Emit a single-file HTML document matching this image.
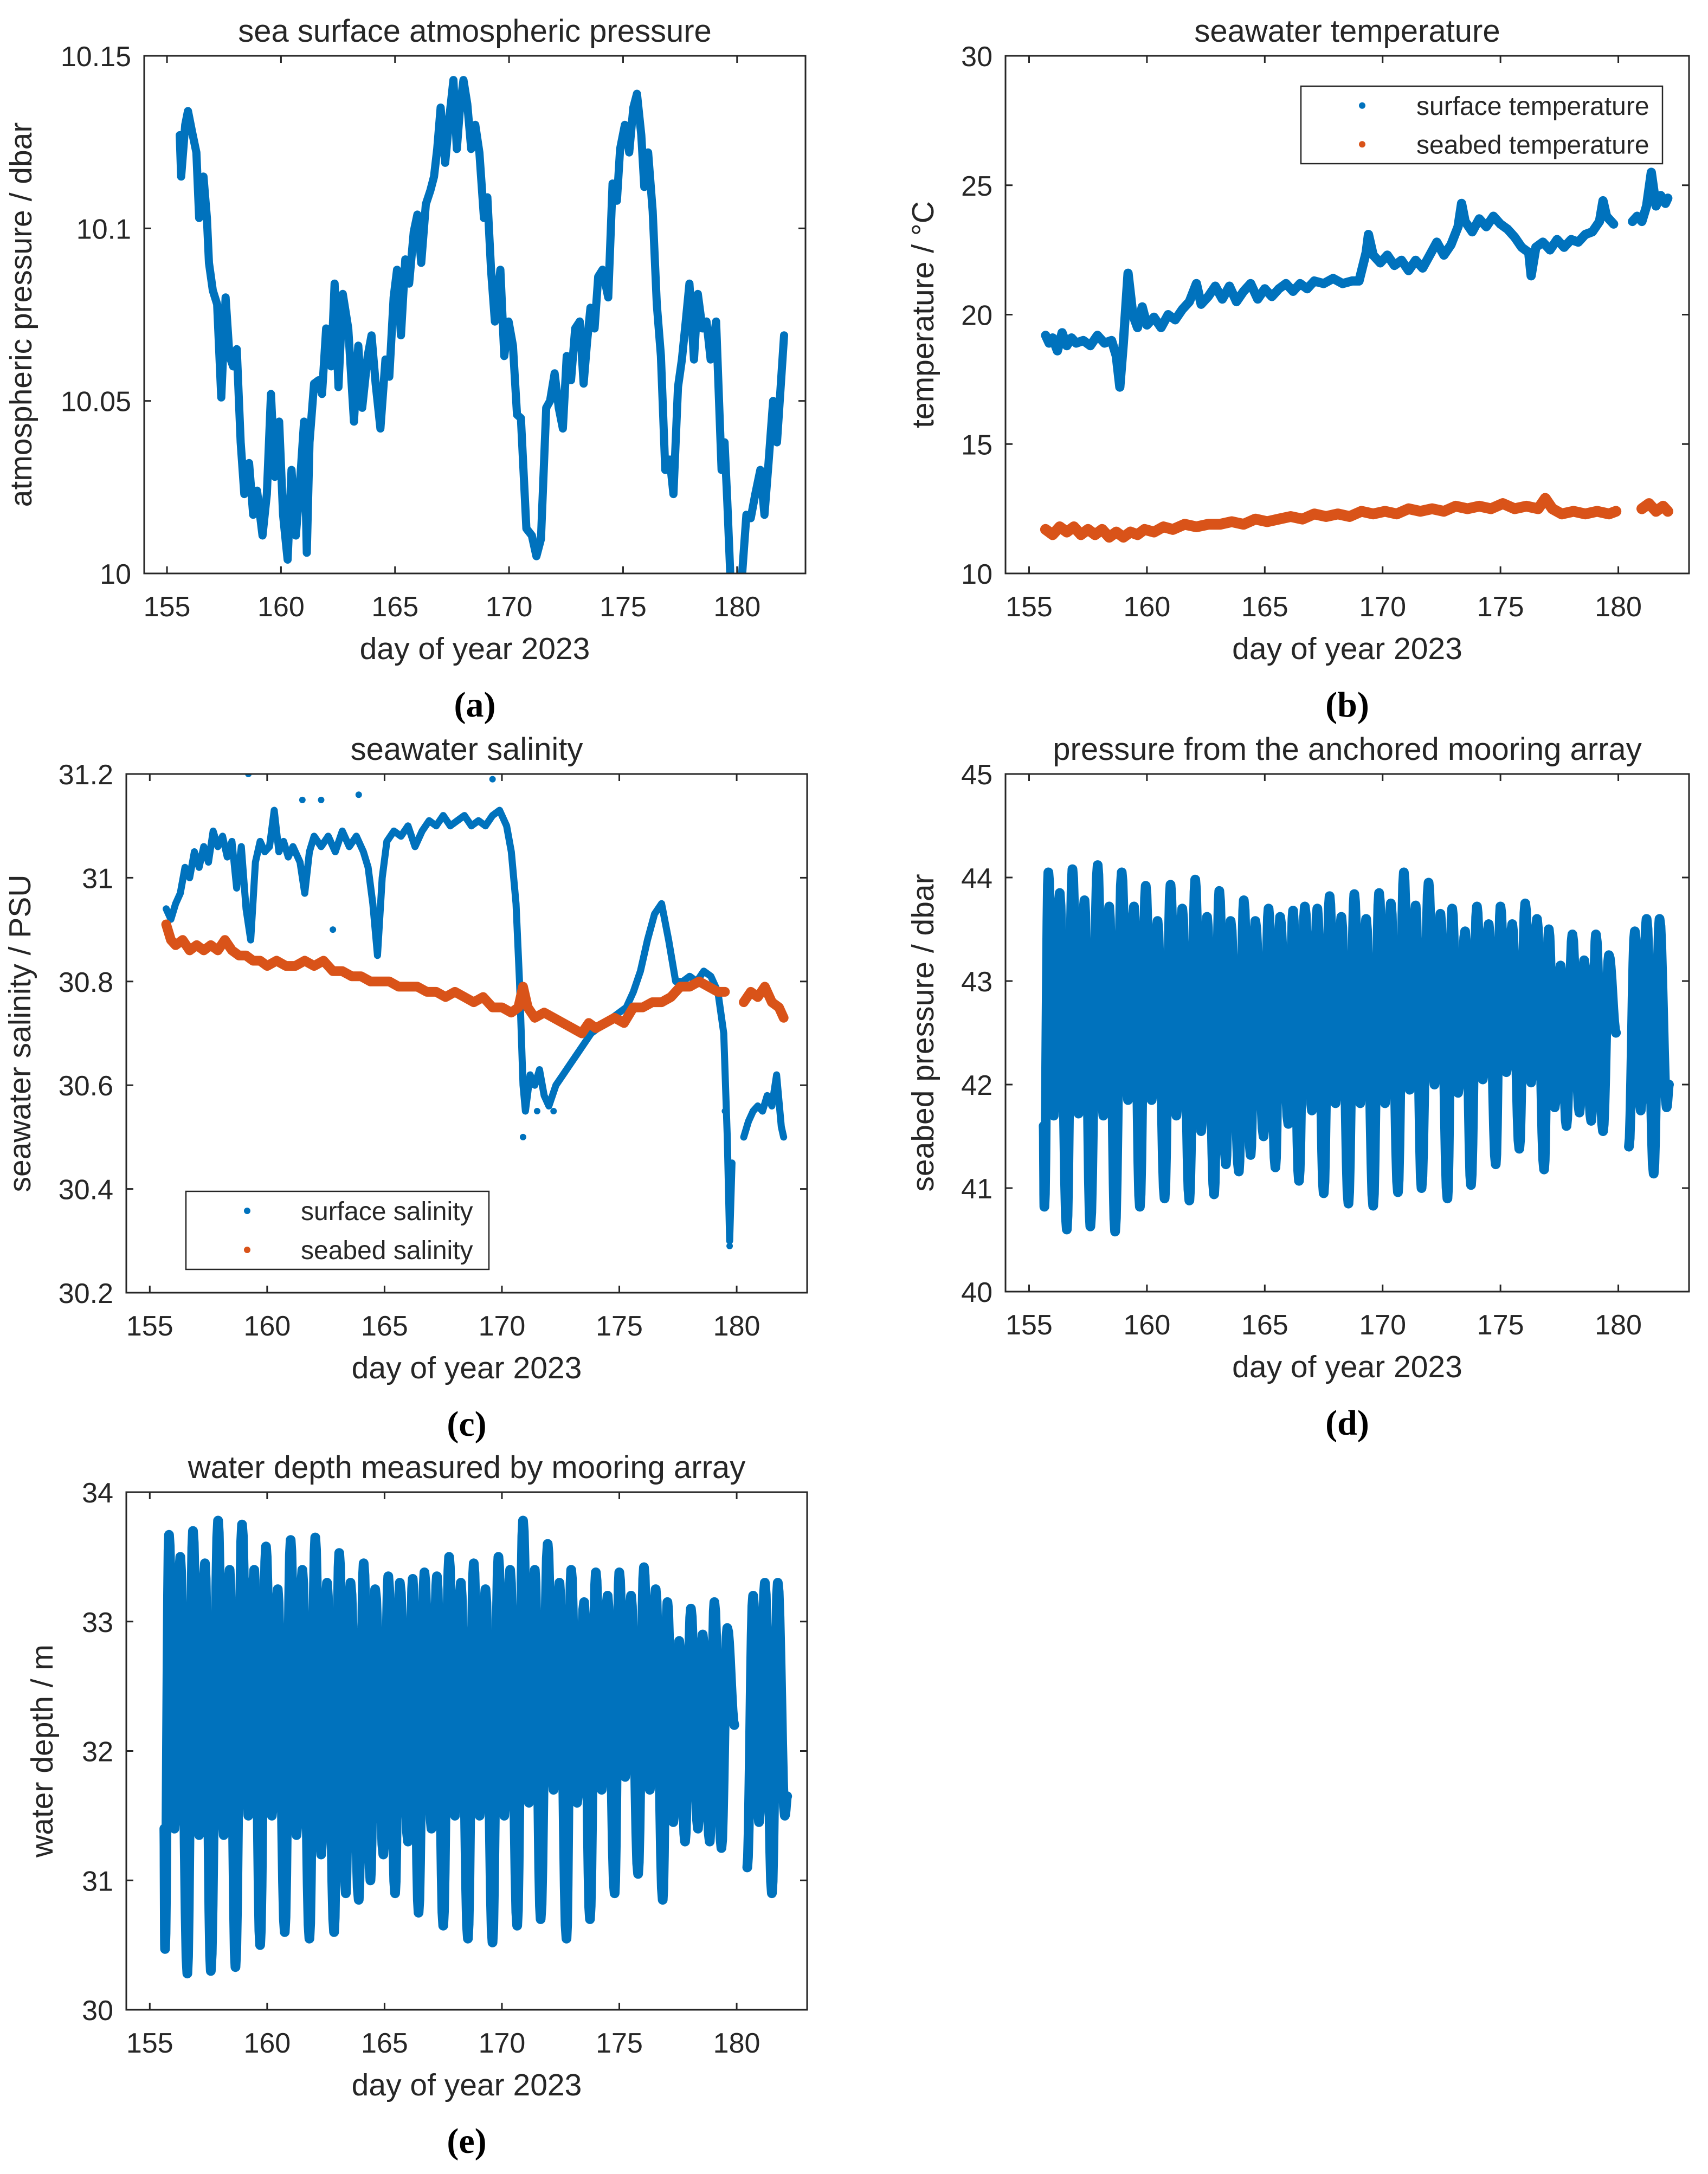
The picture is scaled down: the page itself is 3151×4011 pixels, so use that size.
<!DOCTYPE html>
<html><head><meta charset="utf-8"><style>
html,body{margin:0;padding:0;background:#fff;}
svg{display:block;}
text{font-family:"Liberation Sans",Arial,sans-serif;fill:#262626;}
.pl{font-family:"Liberation Serif","Times New Roman",serif;font-weight:bold;fill:#000;}
</style></head><body>
<svg id="fig" xmlns="http://www.w3.org/2000/svg" width="3151" height="4011" viewBox="0 0 3151 4011"></svg>
<script>
// ---------- DATA ----------
const xTicks = [155,160,165,170,175,180];
const atmPressure = [[155.56,10.127],[155.62,10.115],[155.8,10.13],[155.92,10.134],[156.1,10.128],[156.29,10.122],[156.41,10.103],[156.6,10.115],[156.75,10.103],[156.84,10.09],[157.01,10.082],[157.2,10.078],[157.38,10.051],[157.57,10.080],[157.74,10.063],[157.9,10.06],[158.06,10.065],[158.23,10.038],[158.39,10.023],[158.6,10.032],[158.78,10.017],[158.95,10.024],[159.19,10.011],[159.38,10.023],[159.56,10.052],[159.73,10.028],[159.92,10.044],[160.09,10.017],[160.29,10.004],[160.46,10.030],[160.65,10.011],[160.82,10.025],[161.01,10.044],[161.13,10.006],[161.25,10.038],[161.45,10.055],[161.65,10.056],[161.8,10.052],[161.98,10.071],[162.2,10.06],[162.35,10.084],[162.52,10.054],[162.71,10.081],[162.95,10.071],[163.2,10.044],[163.39,10.066],[163.56,10.048],[163.8,10.063],[163.97,10.069],[164.15,10.055],[164.36,10.042],[164.58,10.062],[164.75,10.057],[164.94,10.080],[165.09,10.088],[165.26,10.069],[165.45,10.091],[165.62,10.084],[165.82,10.099],[165.98,10.104],[166.15,10.09],[166.35,10.107],[166.55,10.111],[166.71,10.115],[166.85,10.123],[167.0,10.135],[167.2,10.119],[167.38,10.132],[167.56,10.143],[167.71,10.123],[167.85,10.135],[168.0,10.143],[168.17,10.136],[168.34,10.123],[168.52,10.13],[168.7,10.122],[168.9,10.103],[169.05,10.109],[169.21,10.088],[169.38,10.073],[169.62,10.088],[169.79,10.063],[169.98,10.073],[170.17,10.066],[170.35,10.046],[170.52,10.045],[170.76,10.013],[171.0,10.011],[171.2,10.005],[171.4,10.01],[171.63,10.048],[171.8,10.050],[172.0,10.058],[172.18,10.048],[172.36,10.042],[172.53,10.063],[172.72,10.056],[172.9,10.071],[173.1,10.073],[173.27,10.055],[173.42,10.067],[173.57,10.077],[173.75,10.071],[173.91,10.086],[174.1,10.088],[174.35,10.080],[174.54,10.113],[174.73,10.108],[174.87,10.123],[175.08,10.130],[175.27,10.122],[175.45,10.135],[175.61,10.139],[175.8,10.127],[175.93,10.112],[176.1,10.122],[176.3,10.105],[176.48,10.078],[176.66,10.063],[176.85,10.030],[177.05,10.033],[177.21,10.023],[177.41,10.054],[177.58,10.062],[177.75,10.073],[177.91,10.084],[178.11,10.062],[178.28,10.081],[178.48,10.071],[178.66,10.073],[178.84,10.062],[179.08,10.073],[179.32,10.030],[179.45,10.038],[179.57,10.021],[179.7,10.0],[179.81,9.995],[180.17,9.995],[180.41,10.017],[180.6,10.016],[180.8,10.023],[181.02,10.030],[181.2,10.017],[181.38,10.032],[181.58,10.050],[181.75,10.038],[181.92,10.055],[182.06,10.069]];
const surfaceTemp = [[155.7,19.2],[155.85,18.9],[156.0,19.1],[156.2,18.6],[156.4,19.3],[156.6,18.8],[156.8,19.1],[157.0,18.9],[157.3,19.0],[157.6,18.8],[157.9,19.2],[158.2,18.9],[158.5,19.0],[158.7,18.4],[158.85,17.2],[159.0,18.9],[159.2,21.6],[159.4,20.0],[159.6,19.5],[159.8,20.3],[160.0,19.6],[160.3,19.9],[160.6,19.5],[160.9,20.0],[161.2,19.8],[161.5,20.2],[161.8,20.5],[162.1,21.2],[162.3,20.4],[162.6,20.7],[162.9,21.1],[163.2,20.6],[163.5,21.1],[163.8,20.5],[164.1,20.9],[164.4,21.2],[164.7,20.6],[165.0,21.0],[165.3,20.7],[165.6,21.0],[165.9,21.2],[166.2,20.9],[166.5,21.2],[166.8,21.0],[167.1,21.3],[167.5,21.2],[167.9,21.4],[168.3,21.2],[168.7,21.3],[169.0,21.3],[169.3,22.4],[169.4,23.1],[169.6,22.3],[169.9,22.0],[170.2,22.3],[170.5,21.9],[170.8,22.1],[171.1,21.7],[171.4,22.1],[171.7,21.8],[172.0,22.3],[172.3,22.8],[172.6,22.3],[172.9,22.7],[173.2,23.4],[173.35,24.3],[173.5,23.6],[173.8,23.2],[174.1,23.7],[174.4,23.4],[174.7,23.8],[175.0,23.5],[175.3,23.3],[175.6,23.0],[175.9,22.6],[176.2,22.4],[176.3,21.5],[176.5,22.6],[176.8,22.8],[177.1,22.5],[177.4,22.9],[177.7,22.6],[178.0,22.9],[178.3,22.8],[178.6,23.1],[178.9,23.2],[179.2,23.6],[179.35,24.4],[179.5,23.8],[179.8,23.5],[NaN,NaN],[180.6,23.6],[180.8,23.8],[181.0,23.6],[181.2,24.2],[181.4,25.5],[181.6,24.2],[181.8,24.6],[182.0,24.3],[182.1,24.5]];
const seabedTemp = [[155.7,11.7],[156.0,11.5],[156.3,11.8],[156.6,11.6],[156.9,11.8],[157.2,11.5],[157.5,11.7],[157.8,11.5],[158.1,11.7],[158.4,11.4],[158.7,11.6],[159.0,11.4],[159.3,11.6],[159.6,11.5],[159.9,11.7],[160.3,11.6],[160.7,11.8],[161.1,11.7],[161.6,11.9],[162.1,11.8],[162.6,11.9],[163.1,11.9],[163.6,12.0],[164.1,11.9],[164.6,12.1],[165.1,12.0],[165.6,12.1],[166.1,12.2],[166.6,12.1],[167.1,12.3],[167.6,12.2],[168.1,12.3],[168.6,12.2],[169.1,12.4],[169.6,12.3],[170.1,12.4],[170.6,12.3],[171.1,12.5],[171.6,12.4],[172.1,12.5],[172.6,12.4],[173.1,12.6],[173.6,12.5],[174.1,12.6],[174.6,12.5],[175.1,12.7],[175.6,12.5],[176.1,12.6],[176.6,12.5],[176.9,12.9],[177.2,12.5],[177.6,12.3],[178.1,12.4],[178.6,12.3],[179.1,12.4],[179.6,12.3],[179.9,12.4],[NaN,NaN],[181.0,12.5],[181.3,12.7],[181.6,12.4],[181.9,12.6],[182.1,12.4]];
const surfaceSal = [[155.7,30.94],[155.9,30.92],[156.1,30.95],[156.3,30.97],[156.5,31.02],[156.7,31.0],[156.9,31.05],[157.1,31.02],[157.3,31.06],[157.5,31.03],[157.7,31.09],[157.9,31.06],[158.1,31.08],[158.3,31.04],[158.5,31.07],[158.7,30.98],[158.9,31.06],[159.1,30.94],[159.3,30.88],[159.5,31.03],[159.7,31.07],[159.9,31.05],[160.1,31.06],[160.3,31.13],[160.5,31.05],[160.7,31.07],[160.9,31.04],[161.1,31.06],[161.4,31.03],[161.6,30.97],[161.8,31.05],[162.0,31.08],[162.3,31.06],[162.6,31.08],[162.9,31.05],[163.2,31.09],[163.5,31.06],[163.8,31.08],[164.1,31.05],[164.3,31.02],[164.5,30.95],[164.7,30.85],[164.9,31.0],[165.1,31.07],[165.4,31.09],[165.7,31.08],[166.0,31.1],[166.3,31.06],[166.6,31.09],[166.9,31.11],[167.2,31.1],[167.5,31.12],[167.8,31.1],[168.1,31.11],[168.4,31.12],[168.7,31.1],[169.0,31.11],[169.3,31.1],[169.6,31.12],[169.9,31.13],[170.2,31.1],[170.4,31.05],[170.6,30.95],[170.75,30.8],[170.9,30.6],[171.0,30.55],[171.2,30.62],[171.4,30.6],[171.6,30.63],[171.8,30.58],[172.0,30.56],[172.3,30.6],[172.6,30.62],[172.9,30.64],[173.2,30.66],[173.5,30.68],[173.8,30.7],[174.1,30.71],[174.4,30.72],[174.7,30.73],[175.0,30.74],[175.3,30.75],[175.6,30.78],[175.9,30.82],[176.2,30.88],[176.5,30.93],[176.8,30.95],[177.1,30.88],[177.4,30.8],[177.7,30.8],[178.0,30.81],[178.3,30.8],[178.6,30.82],[178.9,30.81],[179.2,30.78],[179.45,30.7],[179.6,30.5],[179.7,30.3],[179.8,30.45],[NaN,NaN],[180.3,30.5],[180.5,30.53],[180.7,30.55],[180.9,30.56],[181.1,30.55],[181.3,30.58],[181.5,30.56],[181.7,30.62],[181.9,30.52],[182.0,30.5]];
const surfaceSalDots = [[159.2,31.2],[161.5,31.15],[162.3,31.15],[162.8,30.9],[163.9,31.16],[169.6,31.19],[170.9,30.5],[171.5,30.55],[172.2,30.55],[179.7,30.29],[179.5,30.55]];
const seabedSal = [[155.7,30.91],[155.9,30.88],[156.1,30.87],[156.4,30.88],[156.7,30.86],[157.0,30.87],[157.3,30.86],[157.6,30.87],[157.9,30.86],[158.2,30.88],[158.5,30.86],[158.8,30.85],[159.1,30.85],[159.4,30.84],[159.7,30.84],[160.0,30.83],[160.4,30.84],[160.8,30.83],[161.2,30.83],[161.6,30.84],[162.0,30.83],[162.4,30.84],[162.8,30.82],[163.2,30.82],[163.6,30.81],[164.0,30.81],[164.4,30.8],[164.8,30.8],[165.2,30.8],[165.6,30.79],[166.0,30.79],[166.4,30.79],[166.8,30.78],[167.2,30.78],[167.6,30.77],[168.0,30.78],[168.4,30.77],[168.8,30.76],[169.2,30.77],[169.6,30.75],[170.0,30.75],[170.4,30.74],[170.7,30.75],[170.9,30.79],[171.1,30.75],[171.4,30.73],[171.8,30.74],[172.2,30.73],[172.6,30.72],[173.0,30.71],[173.4,30.7],[173.7,30.72],[174.0,30.71],[174.4,30.72],[174.8,30.73],[175.2,30.72],[175.6,30.75],[176.0,30.75],[176.4,30.76],[176.8,30.76],[177.2,30.77],[177.6,30.79],[178.0,30.79],[178.4,30.8],[178.8,30.79],[179.2,30.78],[179.5,30.78],[NaN,NaN],[180.3,30.76],[180.6,30.78],[180.9,30.77],[181.2,30.79],[181.5,30.76],[181.8,30.75],[182.0,30.73]];
const seabedPressure = [[155.62,41.6],[155.65,40.82],[155.82,44.05],[156.05,41.7],[156.3,43.85],[156.6,40.6],[156.84,44.08],[157.1,41.72],[157.35,43.78],[157.6,40.63],[157.91,44.12],[158.15,41.7],[158.4,43.72],[158.65,40.58],[158.93,44.05],[159.2,41.85],[159.45,43.72],[159.7,40.82],[159.95,43.92],[160.2,41.85],[160.45,43.58],[160.75,40.9],[161.0,43.93],[161.25,41.7],[161.5,43.7],[161.8,40.88],[162.05,43.98],[162.3,41.55],[162.55,43.62],[162.85,40.94],[163.07,43.87],[163.35,41.23],[163.55,43.58],[163.9,41.16],[164.11,43.78],[164.4,41.32],[164.6,43.58],[164.95,41.5],[165.16,43.7],[165.45,41.2],[165.65,43.62],[166.0,41.62],[166.2,43.68],[166.45,41.07],[166.7,43.72],[167.0,41.75],[167.23,43.7],[167.5,40.95],[167.75,43.82],[168.0,41.82],[168.25,43.62],[168.55,40.85],[168.8,43.84],[169.05,41.82],[169.3,43.6],[169.6,40.83],[169.85,43.85],[170.1,41.82],[170.35,43.75],[170.65,40.96],[170.9,44.05],[171.15,41.95],[171.4,43.73],[171.65,41.0],[171.95,43.95],[172.2,42.0],[172.45,43.65],[172.75,40.9],[172.95,43.7],[173.2,41.92],[173.5,43.48],[173.75,41.03],[174.0,43.72],[174.25,42.05],[174.5,43.55],[174.8,41.23],[175.0,43.72],[175.25,42.12],[175.5,43.55],[175.8,41.38],[176.05,43.75],[176.3,42.02],[176.55,43.6],[176.85,41.18],[177.05,43.5],[177.3,41.78],[177.55,43.15],[177.8,41.6],[178.05,43.45],[178.35,41.73],[178.55,43.2],[178.85,41.65],[179.05,43.45],[179.35,41.55],[179.6,43.25],[179.9,42.5],[NaN,NaN],[180.45,41.4],[180.7,43.48],[180.95,41.75],[181.2,43.6],[181.5,41.14],[181.75,43.6],[182.05,41.78],[182.15,42.0]];
const waterDepth = [[155.62,31.4],[155.65,30.47],[155.82,33.67],[156.05,31.4],[156.3,33.5],[156.6,30.28],[156.84,33.7],[157.1,31.35],[157.35,33.45],[157.6,30.3],[157.91,33.78],[158.15,31.35],[158.4,33.4],[158.65,30.33],[158.93,33.75],[159.2,31.5],[159.45,33.4],[159.7,30.5],[159.95,33.58],[160.2,31.5],[160.45,33.25],[160.75,30.6],[161.0,33.63],[161.25,31.35],[161.5,33.4],[161.8,30.55],[162.05,33.65],[162.3,31.2],[162.55,33.3],[162.85,30.6],[163.07,33.53],[163.35,30.9],[163.55,33.3],[163.9,30.85],[164.11,33.45],[164.4,31.0],[164.6,33.25],[164.95,31.2],[165.16,33.35],[165.45,30.9],[165.65,33.3],[166.0,31.3],[166.2,33.33],[166.45,30.75],[166.7,33.38],[167.0,31.4],[167.23,33.35],[167.5,30.65],[167.75,33.5],[168.0,31.5],[168.25,33.3],[168.55,30.55],[168.8,33.45],[169.05,31.5],[169.3,33.25],[169.6,30.52],[169.85,33.5],[170.1,31.5],[170.35,33.4],[170.65,30.65],[170.9,33.78],[171.15,31.6],[171.4,33.4],[171.65,30.7],[171.95,33.6],[172.2,31.7],[172.45,33.3],[172.75,30.55],[172.95,33.4],[173.2,31.6],[173.5,33.15],[173.75,30.7],[174.0,33.38],[174.25,31.7],[174.5,33.2],[174.8,30.9],[175.0,33.38],[175.25,31.8],[175.5,33.2],[175.8,31.05],[176.05,33.42],[176.3,31.7],[176.55,33.25],[176.85,30.85],[177.05,33.15],[177.3,31.45],[177.55,32.85],[177.8,31.3],[178.05,33.1],[178.35,31.4],[178.55,32.9],[178.85,31.3],[179.05,33.15],[179.35,31.25],[179.6,32.95],[179.9,32.2],[NaN,NaN],[180.45,31.1],[180.7,33.2],[180.95,31.45],[181.2,33.3],[181.5,30.9],[181.75,33.3],[182.05,31.5],[182.15,31.65]];
const yTicksA = [10,10.05,10.1,10.15];
const yLabelsA = ["10","10.05","10.1","10.15"];
const yTicksB = [10,15,20,25,30];
const yTicksC = [30.2,30.4,30.6,30.8,31,31.2];
const yLabelsC = ["30.2","30.4","30.6","30.8","31","31.2"];
const yTicksD = [40,41,42,43,44,45];
const yTicksE = [30,31,32,33,34];

// ---------- DRAW ----------
const NS = "http://www.w3.org/2000/svg";
const svg = document.getElementById('fig');
const BLUE = "#0072BD", ORANGE = "#D95319";
function mk(tag, attrs, parent){ const e=document.createElementNS(NS,tag); for(const k in attrs) e.setAttribute(k,attrs[k]); (parent||svg).appendChild(e); return e; }
let clipN = 0;

function panel(cfg){
  const g = mk('g',{});
  
  
  const L=cfg.box[0], T=cfg.box[1], R=cfg.box[2], B=cfg.box[3];
  const sx = v => L + (v-154)/(183-154)*(R-L);
  const sy = v => B - (v-cfg.ylim[0])/(cfg.ylim[1]-cfg.ylim[0])*(B-T);
  const cid = 'clip'+(clipN++);
  const cp = mk('clipPath',{id:cid},g);
  mk('rect',{x:L,y:T,width:R-L,height:B-T},cp);
  const dg = mk('g',{'clip-path':'url(#'+cid+')'},g);
  
  
  cfg.series.forEach(s=>{
    let segs=[[]];
    s.data.forEach(p=>{ if(isNaN(p[0])) segs.push([]); else segs[segs.length-1].push(p); });
    segs.forEach(seg=>{
      if(seg.length<2) return;
      let pts=[];
      for(let i=0;i<seg.length;i++){
        if(s.smooth && i>0){
          const a=seg[i-1], b=seg[i];
          for(let k=1;k<=8;k++){ const f=k/8, w=(1-Math.cos(Math.PI*f))/2;
            pts.push(sx(a[0]+(b[0]-a[0])*f).toFixed(1)+','+sy(a[1]+(b[1]-a[1])*w).toFixed(1)); }
        } else pts.push(sx(seg[i][0]).toFixed(1)+','+sy(seg[i][1]).toFixed(1));
      }
      const pl = mk('polyline',{points:pts.join(' '),fill:'none',stroke:s.color,'stroke-width':s.w,'stroke-linejoin':'round','stroke-linecap':'round'},dg);
      
      
    });
    (s.dots||[]).forEach(p=>{
      const c = mk('circle',{cx:sx(p[0]),cy:sy(p[1]),r:6,fill:s.color},dg);
      
      
    });
  });
  const box = mk('rect',{x:L,y:T,width:R-L,height:B-T,fill:'none',stroke:'#262626','stroke-width':3},g);
  
  
  const tl=13;
  xTicks.forEach(v=>{
    const x=sx(v);
    mk('line',{x1:x,y1:B,x2:x,y2:B-tl,stroke:'#262626','stroke-width':3},g);
    mk('line',{x1:x,y1:T,x2:x,y2:T+tl,stroke:'#262626','stroke-width':3},g);
    const t=mk('text',{x:x,y:B+79,'text-anchor':'middle','font-size':52},g);
    t.textContent=v;
    
    
  });
  cfg.yticks.forEach((v,i)=>{
    const y=sy(v);
    mk('line',{x1:L,y1:y,x2:L+tl,y2:y,stroke:'#262626','stroke-width':3},g);
    mk('line',{x1:R,y1:y,x2:R-tl,y2:y,stroke:'#262626','stroke-width':3},g);
    const t=mk('text',{x:L-24,y:y+19,'text-anchor':'end','font-size':52},g);
    t.textContent=cfg.ylabels?cfg.ylabels[i]:String(v);
    
    
  });
  const cx=(L+R)/2;
  const ti=mk('text',{x:cx,y:T-26,'text-anchor':'middle','font-size':58},g);
  ti.textContent=cfg.title;
  
  
  const xl=mk('text',{x:cx,y:B+158,'text-anchor':'middle','font-size':57},g);
  xl.textContent='day of year 2023';
  
  
  const yc=(T+B)/2, yx=cfg.ylabelX;
  const yl=mk('text',{x:yx,y:yc,'text-anchor':'middle','font-size':57,transform:'rotate(-90 '+yx+' '+yc+')'},g);
  yl.textContent=cfg.ylabel;
  
  
  const pl=mk('text',{x:cx,y:B+264,'text-anchor':'middle','font-size':66,'class':'pl'},g);
  pl.textContent=cfg.letter;
  
  
  if(cfg.legend){
    const lg=cfg.legend;
    const lgG=mk('g',{},g);
    
    
    mk('rect',{x:lg.x,y:lg.y,width:lg.w,height:lg.h,fill:'#fff',stroke:'#262626','stroke-width':2.5},lgG);
    lg.items.forEach((it,i)=>{
      const yy=lg.y+lg.h*(i+0.5)/lg.items.length;
      const c=mk('circle',{cx:lg.x+lg.mx,cy:yy,r:6,fill:it.color},lgG);
      
      
      const t=mk('text',{x:lg.x+lg.tx,y:yy+17,'font-size':48},lgG);
      t.textContent=it.label;
      
      
    });
  }
}

panel({name:'panel-a-atmospheric-pressure',box:[266,103,1486,1058],ylim:[10,10.15],yticks:yTicksA,ylabels:yLabelsA,
  title:'sea surface atmospheric pressure',ylabel:'atmospheric pressure / dbar',ylabelX:58,letter:'(a)',
  series:[{name:'atmospheric-pressure-line',data:atmPressure,color:BLUE,w:15}]});
panel({name:'panel-b-temperature',box:[1855,103,3116,1058],ylim:[10,30],yticks:yTicksB,
  title:'seawater temperature',ylabel:'temperature / °C',ylabelX:1722,letter:'(b)',
  series:[{name:'surface-temperature-line',data:surfaceTemp,color:BLUE,w:17},{name:'seabed-temperature-line',data:seabedTemp,color:ORANGE,w:20}],
  legend:{x:2400,y:159,w:667,h:143,mx:113,tx:213,items:[{label:'surface temperature',color:BLUE},{label:'seabed temperature',color:ORANGE}]}});
panel({name:'panel-c-salinity',box:[233,1428,1489,2385],ylim:[30.2,31.2],yticks:yTicksC,ylabels:yLabelsC,
  title:'seawater salinity',ylabel:'seawater salinity / PSU',ylabelX:56,letter:'(c)',
  series:[{name:'surface-salinity-line',data:surfaceSal,dots:surfaceSalDots,color:BLUE,w:13},{name:'seabed-salinity-line',data:seabedSal,color:ORANGE,w:18}],
  legend:{x:343,y:2198,w:559,h:144,mx:113,tx:212,items:[{label:'surface salinity',color:BLUE},{label:'seabed salinity',color:ORANGE}]}});
panel({name:'panel-d-seabed-pressure',box:[1855,1428,3116,2383],ylim:[40,45],yticks:yTicksD,
  title:'pressure from the anchored mooring array',ylabel:'seabed pressure / dbar',ylabelX:1722,letter:'(d)',
  series:[{name:'seabed-pressure-line',data:seabedPressure,color:BLUE,w:18,smooth:true}]});
panel({name:'panel-e-water-depth',box:[233,2753,1489,3708],ylim:[30,34],yticks:yTicksE,
  title:'water depth measured by mooring array',ylabel:'water depth / m',ylabelX:97,letter:'(e)',
  series:[{name:'water-depth-line',data:waterDepth,color:BLUE,w:18,smooth:true}]});
</script>
</body></html>
